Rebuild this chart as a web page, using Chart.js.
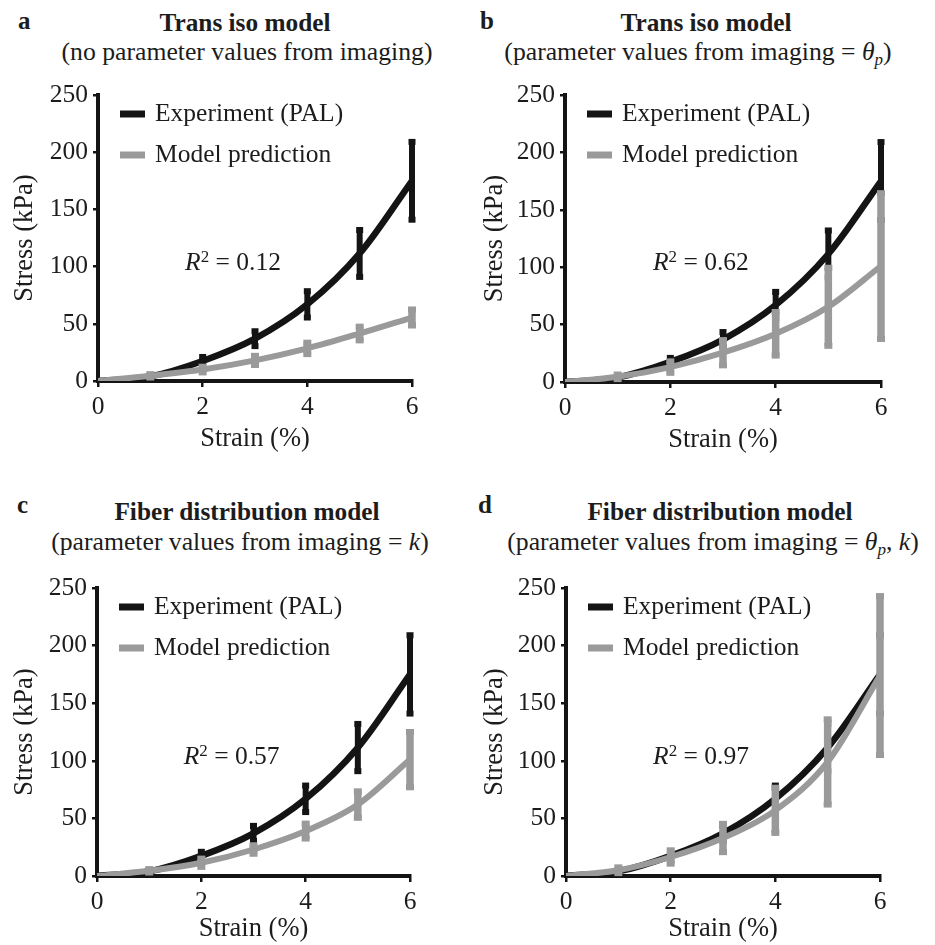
<!DOCTYPE html>
<html><head><meta charset="utf-8">
<script src="https://cdn.jsdelivr.net/npm/chart.js@4.4.1/dist/chart.umd.min.js"></script>
<style>
html,body{margin:0;padding:0;background:#fff;}
body{width:935px;height:945px;position:relative;overflow:hidden;font-family:'Liberation Serif','Times New Roman',serif;color:#1c1c1c;}
canvas{position:absolute;}
.t{position:absolute;width:600px;text-align:center;font-size:25.7px;line-height:24px;white-space:nowrap;}
.b{font-weight:bold;font-size:25.3px;}
.lt{position:absolute;font-size:25px;line-height:24px;font-weight:bold;}
</style></head>
<body>
<div class="lt" style="left:18px;top:9px;">a</div>
<div class="t b" style="left:-55px;top:10px;">Trans iso model</div>
<div class="t" style="left:-53px;top:40px;">(no parameter values from imaging)</div>

<div class="lt" style="left:480px;top:9px;">b</div>
<div class="t b" style="left:406px;top:10px;">Trans iso model</div>
<div class="t" style="left:398px;top:40px;">(parameter values from imaging = <i>θ<sub style="font-size:17px;vertical-align:-5px;line-height:0">p</sub></i>)</div>

<div class="lt" style="left:17px;top:493px;">c</div>
<div class="t b" style="left:-53px;top:499px;">Fiber distribution model</div>
<div class="t" style="left:-60px;top:530px;">(parameter values from imaging = <i>k</i>)</div>

<div class="lt" style="left:478px;top:493px;">d</div>
<div class="t b" style="left:420px;top:499px;">Fiber distribution model</div>
<div class="t" style="left:413px;top:530px;">(parameter values from imaging = <i>θ<sub style="font-size:17px;vertical-align:-5px;line-height:0">p</sub></i>, <i>k</i>)</div>

<canvas id="ca" width="467" height="470" style="left:0;top:0;"></canvas>
<canvas id="cb" width="468" height="470" style="left:467px;top:0;"></canvas>
<canvas id="cc" width="467" height="473" style="left:0;top:472px;"></canvas>
<canvas id="cd" width="468" height="473" style="left:467px;top:472px;"></canvas>
<script>
// ---- data ----
const strain = [0, 1, 2, 3, 4, 5, 6];
const xTickValues = [0, 2, 4, 6];
const yTickValues = [0, 50, 100, 150, 200, 250];
const seriesNames = ['Experiment (PAL)', 'Model prediction'];
const expMean = [0, 4, 17.5, 37, 67, 111.5, 175];
const expErr  = [0, 0, 3.5, 6.5, 11.5, 20.5, 34];
const modelA = [0, 4.5, 10, 18, 28.5, 41.5, 55.5];
const errA   = [0, 1.5, 2.5, 4, 5, 6, 7];
const modelB = [0, 4.5, 13, 25.5, 42, 65.5, 101];
const errB   = [0, 2, 5, 11, 19, 34, 63.5];
const modelC = [0, 4.5, 11.5, 23, 39, 62, 101];
const errC   = [0, 1.5, 3.6, 3.7, 6.5, 11.5, 24];
const modelD = [0, 5, 16.5, 33, 57, 99, 174];
const errD   = [0, 2.5, 5.8, 12.3, 19.6, 37, 69];
const r2Values = ['0.12', '0.62', '0.57', '0.97'];
const r2Pos = {x: 2.58, y: 103};

const BLACK = '#141414', GREY = '#9a9a9a', TXT = '#1c1c1c';
const FONT = "'Liberation Serif', 'Times New Roman', serif";

const errPlugin = {
  id: 'errbars',
  afterDatasetDraw(chart, args) {
    const ds = chart.data.datasets[args.index];
    const {ctx, scales: {x, y}} = chart;
    ctx.save();
    ctx.strokeStyle = ds.borderColor; ctx.fillStyle = ds.borderColor;
    ctx.lineWidth = ds.errWidth;
    ds.errors.forEach((e, i) => {
      if (!e) return;
      const p = ds.data[i];
      const px = x.getPixelForValue(p.x);
      const t = y.getPixelForValue(p.y + e), b = y.getPixelForValue(p.y - e);
      ctx.beginPath(); ctx.moveTo(px, t); ctx.lineTo(px, b); ctx.stroke();
      ctx.fillRect(px - ds.capW / 2, t - 3, ds.capW, 6);
      ctx.fillRect(px - ds.capW / 2, b - 3, ds.capW, 6);
    });
    ctx.restore();
  }
};

const decoPlugin = {
  id: 'deco',
  afterDraw(chart, args, opts) {
    const {ctx, chartArea, scales: {x, y}} = chart;
    ctx.save();
    ctx.textBaseline = 'middle';
    chart.data.datasets.forEach((ds, i) => {
      const yy = chartArea.top + 19 + i * 41;
      ctx.fillStyle = ds.borderColor;
      ctx.fillRect(chartArea.left + 22, yy - 3.5, 25, 7);
      ctx.fillStyle = TXT;
      ctx.font = '25.5px ' + FONT;
      ctx.fillText(ds.label, chartArea.left + 57, yy);
    });
    const parts = [
      {t: 'R', f: 'italic 25.5px ' + FONT, dy: 0},
      {t: '2', f: '17px ' + FONT, dy: -6},
      {t: ' = ' + opts.r2, f: '25.5px ' + FONT, dy: 0}
    ];
    let w = 0;
    parts.forEach(p => { ctx.font = p.f; p.w = ctx.measureText(p.t).width; w += p.w; });
    let cx = x.getPixelForValue(r2Pos.x) - w / 2;
    const cy = y.getPixelForValue(r2Pos.y);
    ctx.fillStyle = TXT; ctx.textAlign = 'left';
    parts.forEach(p => { ctx.font = p.f; ctx.fillText(p.t, cx, cy + p.dy); cx += p.w; });
    ctx.restore();
  }
};

function pts(vals) { return strain.map((s, i) => ({x: s, y: vals[i]})); }

function makeChart(id, model, err, r2, area, yTitlePad, xTitlePad) {
  const cv = document.getElementById(id);
  const W = cv.width, H = cv.height;
  const tickFont = {family: FONT, size: 25.5};
  const titleFont = {family: FONT, size: 26.5};
  return new Chart(cv, {
    type: 'line',
    data: {
      datasets: [
        {label: seriesNames[0], data: pts(expMean), errors: expErr, borderColor: BLACK, backgroundColor: BLACK,
         borderWidth: 6.5, pointRadius: 0, cubicInterpolationMode: 'monotone', order: 1, errWidth: 6, capW: 7},
        {label: seriesNames[1], data: pts(model), errors: err, borderColor: GREY, backgroundColor: GREY,
         borderWidth: 6, pointRadius: 0, cubicInterpolationMode: 'monotone', order: 0, errWidth: 7.5, capW: 8}
      ]
    },
    options: {
      responsive: false, animation: false, devicePixelRatio: 1,
      layout: {padding: {top: area.top, right: W - area.right, left: 0, bottom: 0}},
      plugins: {legend: {display: false}, tooltip: {enabled: false}, deco: {r2: r2}},
      scales: {
        x: {
          type: 'linear', min: 0, max: 6,
          afterBuildTicks: s => { s.ticks = xTickValues.map(v => ({value: v})); },
          afterFit: s => { s.height = H - area.bottom; },
          ticks: {font: tickFont, color: TXT, padding: 5, maxRotation: 0},
          grid: {drawOnChartArea: false, drawTicks: true, tickLength: 6, color: BLACK, lineWidth: 2.5},
          border: {display: true, color: BLACK, width: 4},
          title: {display: true, text: 'Strain (%)', font: titleFont, color: TXT, padding: {bottom: xTitlePad, top: 0}}
        },
        y: {
          type: 'linear', min: 0, max: 250,
          afterBuildTicks: s => { s.ticks = yTickValues.map(v => ({value: v})); },
          afterFit: s => { s.width = area.left; },
          ticks: {font: tickFont, color: TXT, padding: 5},
          grid: {drawOnChartArea: false, drawTicks: true, tickLength: 5, color: BLACK, lineWidth: 2.5},
          border: {display: true, color: BLACK, width: 4},
          title: {display: true, text: 'Stress (kPa)', font: titleFont, color: TXT, padding: {top: yTitlePad, bottom: 0}}
        }
      }
    },
    plugins: [errPlugin, decoPlugin]
  });
}

makeChart('ca', modelA, errA, r2Values[0], {left: 98, right: 412, top: 95, bottom: 381}, 9, 15.5);
makeChart('cb', modelB, errB, r2Values[1], {left: 98, right: 414, top: 95, bottom: 382}, 12.5, 14.5);
makeChart('cc', modelC, errC, r2Values[2], {left: 97, right: 410, top: 116, bottom: 404}, 9, 0);
makeChart('cd', modelD, errD, r2Values[3], {left: 99, right: 413, top: 116, bottom: 404}, 12.5, 0);
</script>
</body></html>
